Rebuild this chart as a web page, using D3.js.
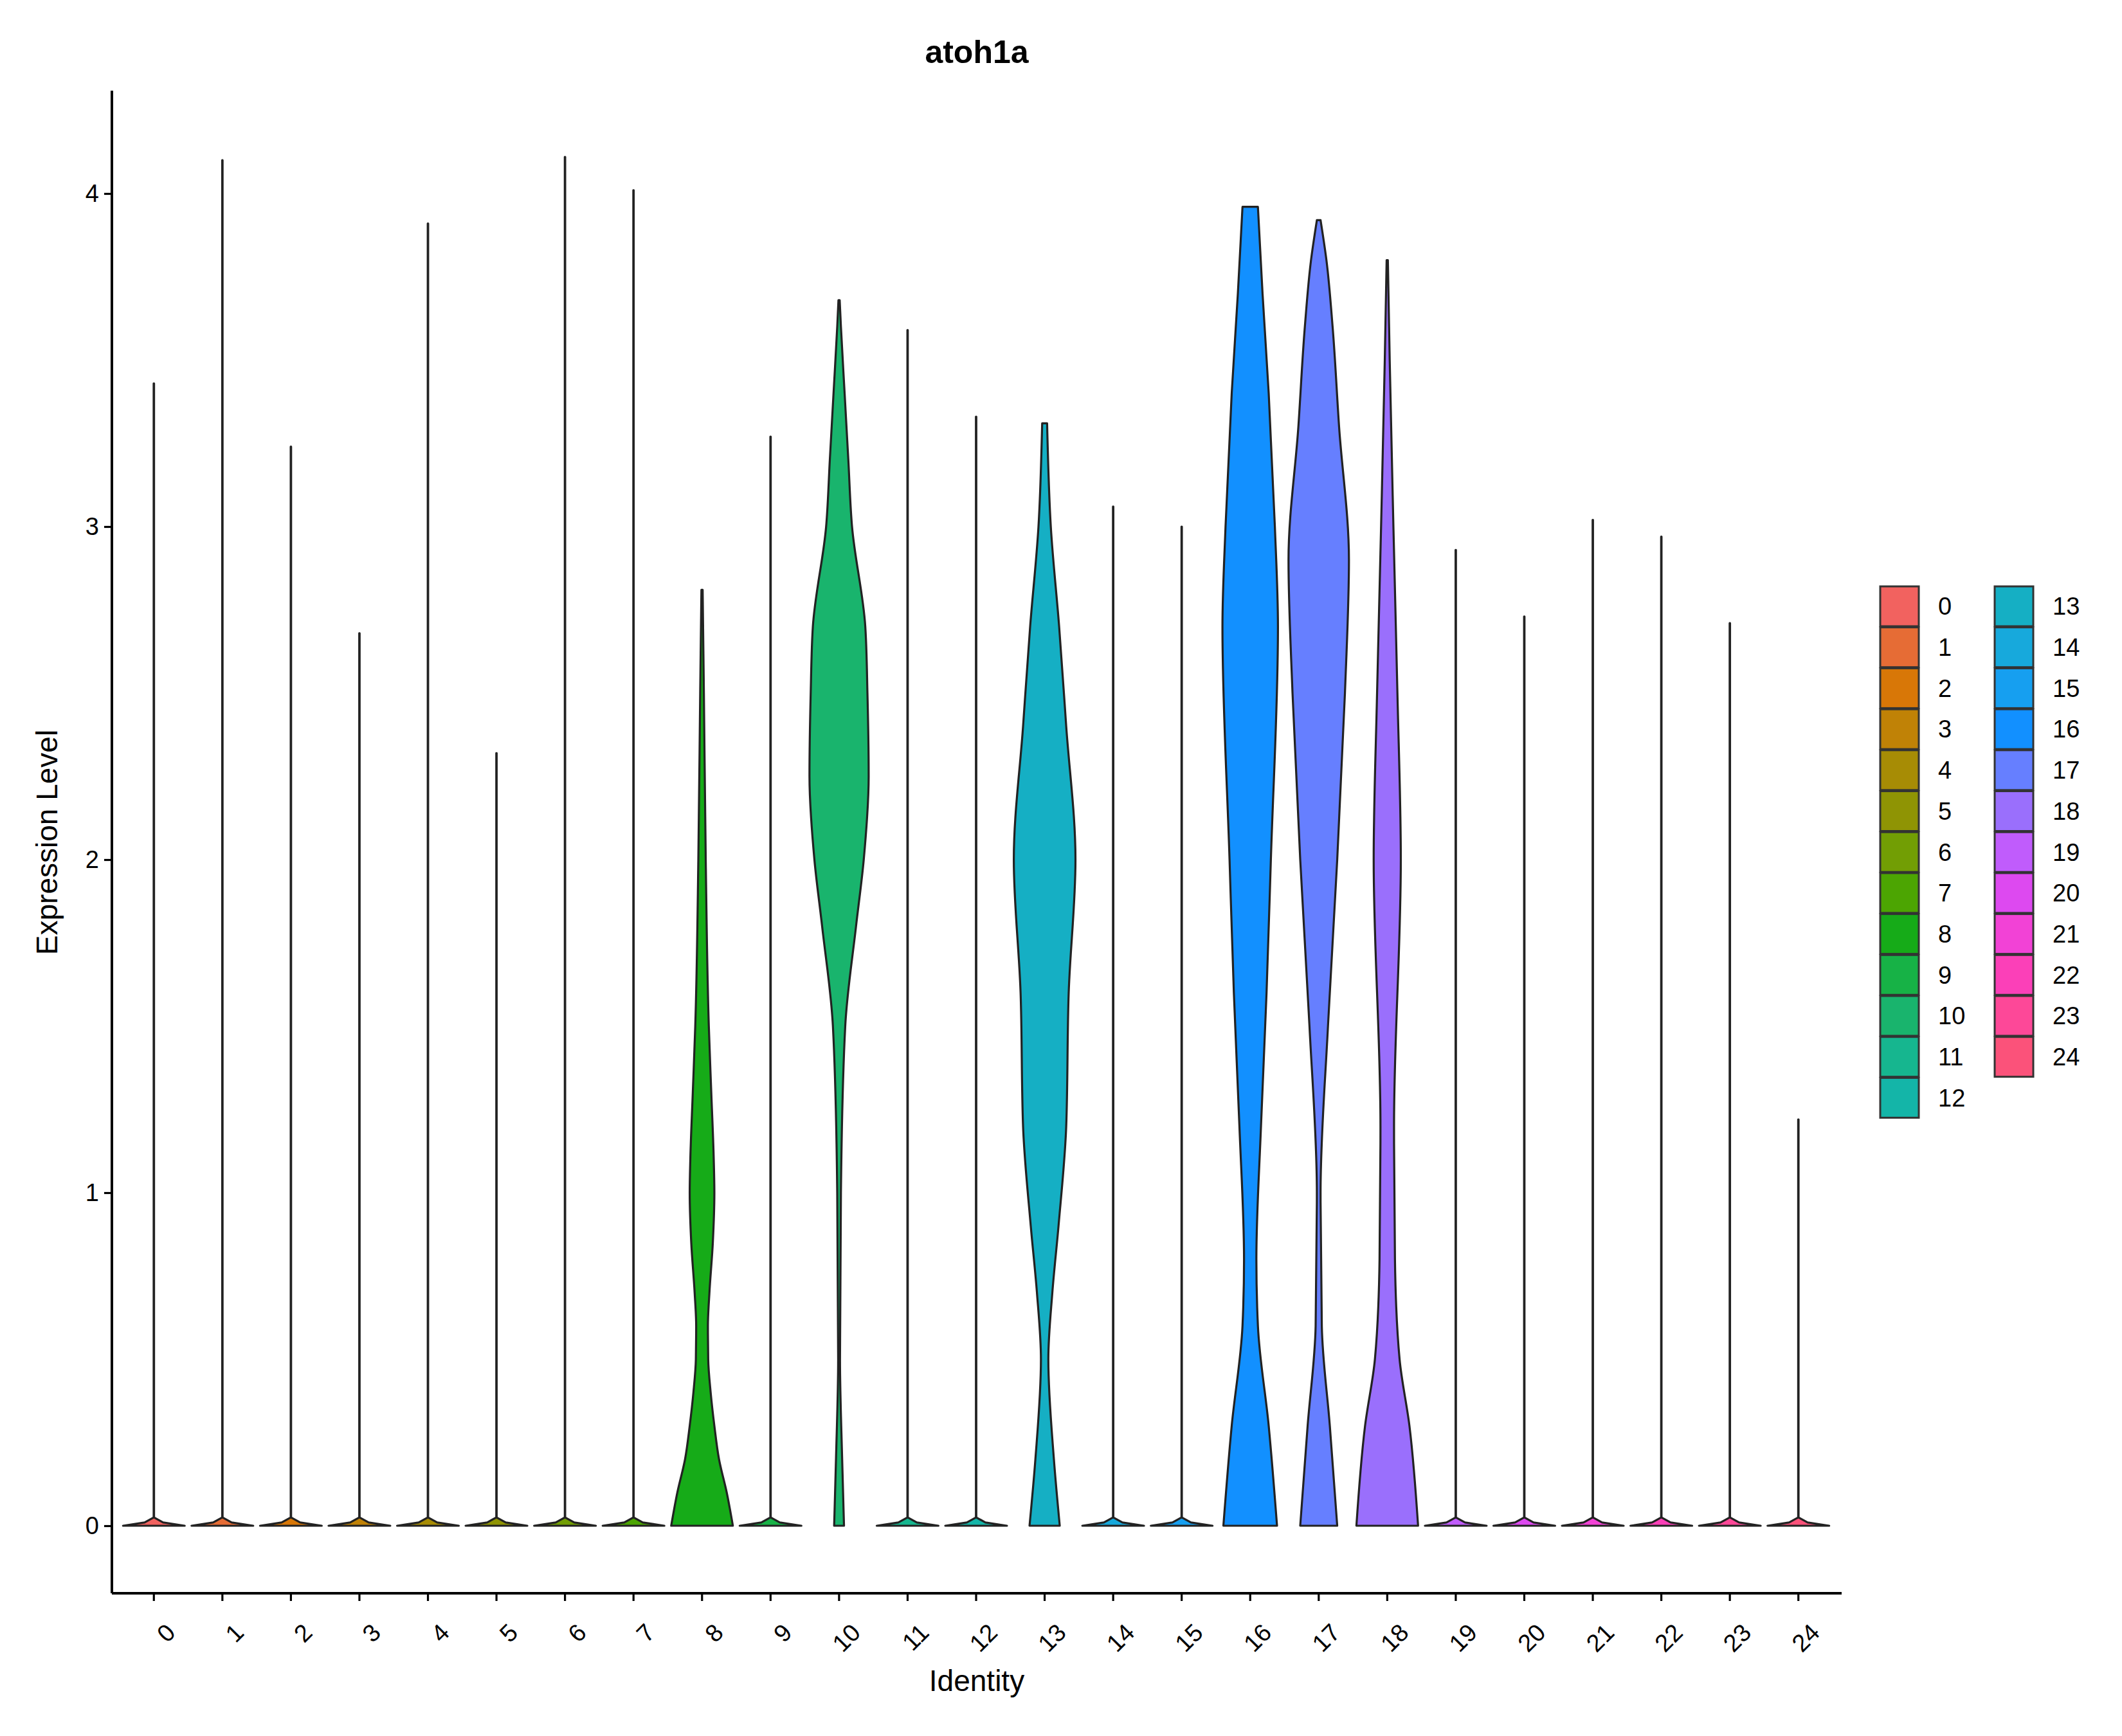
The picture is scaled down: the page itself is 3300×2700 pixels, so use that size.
<!DOCTYPE html>
<html><head><meta charset="utf-8">
<script src="https://cdn.jsdelivr.net/npm/d3@7"></script>
<style>body{margin:0;background:#fff}</style>
</head><body><svg id="chart" width="3300" height="2700"></svg>
<script>
const clusters = d3.range(25).map(String);
// max expression of each cluster (top of violin)
const maxValues = [3.43, 4.10, 3.24, 2.68, 3.91, 2.32, 4.11, 4.01, 2.81, 3.27, 3.68, 3.59, 3.33, 3.31, 3.06, 3.00, 3.96, 3.92, 3.80, 2.93, 2.73, 3.02, 2.97, 2.71, 1.22];
// shapes: [expression, relative half width]
const shapes = {
  8: [[0,1],[0.1,0.8],[0.2,0.55],[0.3,0.4],[0.4,0.28],[0.5,0.2],[0.6,0.19],[0.7,0.24],[0.85,0.35],[1.0,0.4],[1.1,0.38],[1.3,0.3],[1.5,0.22],[2.0,0.12],[2.5,0.06],[2.81,0.02]],
  10: [[0,0.16],[0.2,0.1],[0.5,0.03],[1.0,0.06],[1.5,0.2],[1.8,0.55],[2.0,0.8],[2.25,0.96],[2.5,0.92],[2.7,0.85],[3.0,0.42],[3.2,0.3],[3.4,0.18],[3.6,0.06],[3.68,0.02]],
  13: [[0,0.49],[0.2,0.3],[0.5,0.12],[0.7,0.25],[0.9,0.45],[1.2,0.7],[1.6,0.78],[2.0,1.0],[2.4,0.7],[2.7,0.47],[3.0,0.2],[3.31,0.08]],
  16: [[0,0.87],[0.3,0.6],[0.6,0.25],[0.8,0.2],[1.2,0.35],[1.6,0.53],[2.0,0.67],[2.7,0.9],[3.0,0.8],[3.4,0.6],[3.7,0.4],[3.96,0.25]],
  17: [[0,0.6],[0.3,0.36],[0.6,0.1],[1.0,0.06],[1.5,0.3],[2.0,0.6],[2.5,0.85],[2.9,0.98],[3.3,0.66],[3.6,0.45],[3.8,0.25],[3.92,0.06]],
  18: [[0,1],[0.3,0.72],[0.5,0.4],[0.8,0.25],[1.2,0.22],[2.0,0.44],[2.5,0.33],[3.0,0.2],[3.5,0.08],[3.8,0.02]]
};
const yTicks = [0, 1, 2, 3, 4];
const colors = ["#f2625f", "#e66c35", "#d87707", "#c08206", "#a78c05", "#8f9404", "#729e04", "#4ca502",
  "#16ab18", "#17b246", "#19b46d", "#16b68f", "#14b5a8", "#15afc4", "#17a9dc", "#169ff0", "#1290ff",
  "#667fff", "#9a6ffc", "#c05cfc", "#dd49f0", "#f242d6", "#fb40b8", "#fd4898", "#fb527a"];

const svg = d3.select("#chart");
const font = "Liberation Sans, Arial, sans-serif";
const margin = { left: 174, right: 2864, top: 141, bottom: 2478 };

const x = d3.scaleBand().domain(clusters).range([186, 2850]).padding(0);
const y = d3.scaleLinear().domain([0, 4]).range([2373, 301]);
const halfMax = x.bandwidth() * 0.45;

const area = d3.area()
  .y((d) => y(d[0]))
  .x0((d) => -d[1] * halfMax)
  .x1((d) => d[1] * halfMax);

clusters.forEach((c, i) => {
  let pts = shapes[i];
  if (!pts) pts = [[0, 1], [0.01, 0.3], [0.025, 0.006], [maxValues[i], 0.006]];
  const g = svg.append("g").attr("transform", `translate(${x(c) + x.bandwidth() / 2},0)`);
  g.append("path")
    .attr("d", area.curve(shapes[i] ? d3.curveMonotoneY : d3.curveLinear)(pts))
    .attr("fill", colors[i])
    .attr("stroke", "#222")
    .attr("stroke-width", 3.2)
    .attr("stroke-linejoin", "round");
});

// axes
const yAxis = svg.append("g").attr("transform", `translate(${margin.left},0)`)
  .call(d3.axisLeft(y).tickValues(yTicks).tickFormat(d3.format("d")).tickSize(12).tickPadding(8));
yAxis.select(".domain").attr("d", `M0,${margin.top}V${margin.bottom}`).attr("stroke-width", 4);
yAxis.selectAll(".tick line").attr("stroke-width", 3.2);
yAxis.selectAll("text").attr("font-size", 38).attr("font-family", font).attr("fill", "#000");

const xAxis = svg.append("g").attr("transform", `translate(0,${margin.bottom})`)
  .call(d3.axisBottom(x).tickSize(12).tickPadding(8));
xAxis.select(".domain").attr("d", `M${margin.left},0H${margin.right}`).attr("stroke-width", 4);
xAxis.selectAll(".tick line").attr("stroke-width", 3.2);
xAxis.selectAll("text")
  .attr("font-size", 38).attr("font-family", font).attr("fill", "#000")
  .attr("text-anchor", "end").attr("dy", "0.35em")
  .attr("transform", "translate(12,40) rotate(-45)");

svg.append("text").attr("x", 1519).attr("y", 98).attr("text-anchor", "middle")
  .attr("font-family", font).attr("font-weight", "bold").attr("font-size", 50).text("atoh1a");
svg.append("text").attr("x", 1519).attr("y", 2630).attr("text-anchor", "middle")
  .attr("font-family", font).attr("font-size", 46).text("Identity");
svg.append("text").attr("transform", "translate(89,1310) rotate(-90)").attr("text-anchor", "middle")
  .attr("font-family", font).attr("font-size", 46).text("Expression Level");

// legend
const legend = svg.append("g");
clusters.forEach((c, i) => {
  const col = i < 13 ? 0 : 1, row = i < 13 ? i : i - 13;
  const lx = 2924 + col * 178, ly = 912 + row * 63.7;
  legend.append("rect").attr("x", lx).attr("y", ly).attr("width", 60).attr("height", 62)
    .attr("fill", colors[i]).attr("stroke", "#333").attr("stroke-width", 3);
  legend.append("text").attr("x", lx + 90).attr("y", ly + 31).attr("dy", "0.35em")
    .attr("font-family", font).attr("font-size", 38).text(c);
});
</script></body></html>
